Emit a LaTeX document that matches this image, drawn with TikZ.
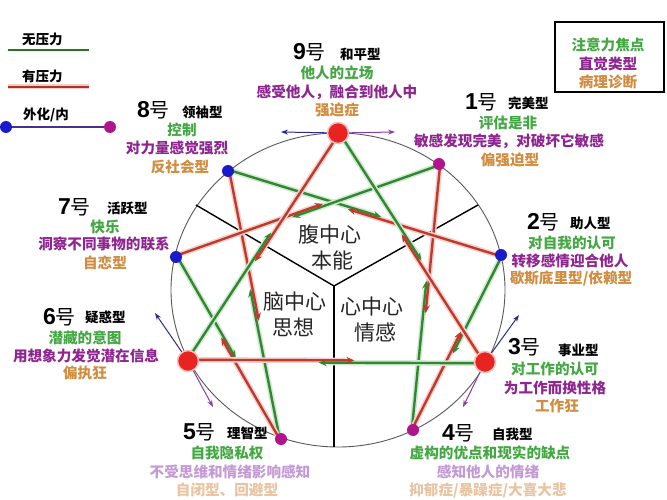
\documentclass[tikz,border=0pt]{standalone}
\usepackage{fontspec}
\setmainfont{Noto Sans CJK SC}
\newfontfamily\numfont{Liberation Sans}
\usetikzlibrary{arrows.meta,calc}
\definecolor{gline}{HTML}{2F8A2F}
\definecolor{rline}{HTML}{C0392B}
\definecolor{tgreen}{HTML}{43A843}
\definecolor{tpurple}{HTML}{8E2590}
\definecolor{torange}{HTML}{D08C40}
\definecolor{tpurplel}{HTML}{C49AD6}
\definecolor{torangel}{HTML}{E8C4A2}
\definecolor{navyc}{HTML}{2B2B85}
\definecolor{violc}{HTML}{8B3F9E}
\definecolor{dotred}{HTML}{E82420}
\definecolor{dotblue}{HTML}{1A1AC8}
\definecolor{dotmag}{HTML}{B0148C}
\newcommand\enseg[2]{%
 \draw[gglow] ($(#2)!1.2pt!90:(#1)$) -- ($($(#2)!0.53!(#1)$)!1.2pt!90:(#1)$);
 \draw[rglow] ($(#1)!1.2pt!90:(#2)$) -- ($($(#1)!0.53!(#2)$)!1.2pt!90:(#2)$);
 \draw[gl] ($(#2)!1.2pt!90:(#1)$) -- ($($(#2)!0.56!(#1)$)!1.2pt!90:(#1)$);
 \draw[sl] ($(#1)!1.2pt!90:(#2)$) -- ($($(#1)!0.56!(#2)$)!1.2pt!90:(#2)$);
}
\begin{document}
\begin{tikzpicture}[x=1pt,y=-1pt,
  sl/.style={rline,line width=2.4pt,-{Stealth[length=8pt,width=7pt]}},
  gl/.style={gline,line width=2.4pt,-{Stealth[length=8pt,width=7pt]}},
  rglow/.style={rline!22,line width=5.5pt},
  gglow/.style={gline!20,line width=5.5pt},
  tan1/.style={navyc,line width=1pt,-{Stealth[length=7pt,width=5pt]}},
  tan2/.style={violc,line width=1pt,-{Stealth[length=7pt,width=5pt]}},
  bigdot/.style={circle,fill=dotred,draw=dotred!30,line width=1.5pt,minimum size=21pt,inner sep=0},
  bdot/.style={circle,fill=dotblue,minimum size=12pt,inner sep=0},
  mdot/.style={circle,fill=dotmag,minimum size=12pt,inner sep=0},
  numt/.style={anchor=west,inner sep=0},
  typet/.style={anchor=west,inner sep=0,font=\bfseries\fontsize{13.5}{14}\selectfont},
  desc/.style={inner sep=0,font=\bfseries\fontsize{14.6}{15}\selectfont},
  ctr/.style={inner sep=0,font=\fontsize{21}{22}\selectfont,text=black!85},
  legt/.style={anchor=west,inner sep=0,font=\bfseries\fontsize{13.5}{14}\selectfont}
]
\useasboundingbox (0,0) rectangle (667,500);
\fill[white] (0,0) rectangle (667,500);

% points
\coordinate (p9) at (338,133);
\coordinate (p1) at (439,164);
\coordinate (p2) at (501,255);
\coordinate (p3) at (485,362);
\coordinate (p4) at (413,430);
\coordinate (p5) at (281,439);
\coordinate (p6) at (188,361);
\coordinate (p7) at (176,257);
\coordinate (p8) at (228,171);
\coordinate (cc) at (338,290);

% circle
\draw[black!65,line width=0.9pt] (cc) ellipse [x radius=167, y radius=157];

% centres
\coordinate (yc) at (334,286);
\coordinate (yl) at (196,205);
\coordinate (yr) at (478,205);
\coordinate (yb) at (334,447);
\draw[black,line width=1.4pt] (yl) -- (yc) -- (yr);
\draw[black,line width=1.4pt] (yc) -- (yb);

% lines
\enseg{p1}{p4}
\enseg{p4}{p2}
\enseg{p2}{p8}
\enseg{p8}{p5}
\enseg{p5}{p7}
\enseg{p7}{p1}
\enseg{p9}{p6}
\enseg{p6}{p3}
\enseg{p3}{p9}

% tangent arrows
\coordinate (a9l) at (281,132);
\coordinate (a9r) at (395,132);
\coordinate (a6u) at (155,313);
\coordinate (a6d) at (213,407);
\coordinate (a3u) at (519,315);
\coordinate (a3d) at (463,407);
\draw[tan1] (p9) -- (a9l);
\draw[tan2] (p9) -- (a9r);
\draw[tan1] (p6) -- (a6u);
\draw[tan2] (p6) -- (a6d);
\draw[tan1] (p3) -- (a3u);
\draw[tan2] (p3) -- (a3d);

% dots
\node[bigdot] (d9) at (p9) {};
\node[bigdot] (d3) at (p3) {};
\node[bigdot] (d6) at (p6) {};
\node[bdot] (d8) at (p8) {};
\node[bdot] (d7) at (p7) {};
\node[bdot] (d2) at (p2) {};
\node[mdot] (d1) at (p1) {};
\node[mdot] (d4) at (p4) {};
\node[mdot] (d5) at (p5) {};

% centre texts
\node[ctr] (c1) at (330,235) {腹中心};
\node[ctr] (c2) at (332,260) {本能};
\node[ctr] (c3) at (295,302) {脑中心};
\node[ctr] (c4) at (293,327) {思想};
\node[ctr] (c5) at (372,307) {心中心};
\node[ctr] (c6) at (375,332) {情感};

% titles
\newcommand\numlab[1]{{\numfont\bfseries\fontsize{23}{23}\selectfont #1}{\fontsize{20}{20}\selectfont 号}}
\node[numt] (n9) at (293,52) {\numlab{9}};
\node[typet] (y9) at (340,54) {和平型};
\node[numt] (n1) at (465,102) {\numlab{1}};
\node[typet] (y1) at (508,103) {完美型};
\node[numt] (n8) at (137,110) {\numlab{8}};
\node[typet] (y8) at (182,112) {领袖型};
\node[numt] (n7) at (58,207) {\numlab{7}};
\node[typet] (y7) at (107,208) {活跃型};
\node[numt] (n6) at (43,317) {\numlab{6}};
\node[typet] (y6) at (85,317) {疑惑型};
\node[numt] (n2) at (527,222) {\numlab{2}};
\node[typet] (y2) at (570,223) {助人型};
\node[numt] (n3) at (508,347) {\numlab{3}};
\node[typet] (y3) at (558,350) {事业型};
\node[numt] (n4) at (442,433) {\numlab{4}};
\node[typet] (y4) at (492,434) {自我型};
\node[numt] (n5) at (183,432) {\numlab{5}};
\node[typet] (y5) at (227,433) {理智型};

% descriptions
\node[desc,text=tgreen] (g9) at (337,73) {他人的立场};
\node[desc,text=tpurple] (u9) at (337,92) {感受他人，融合到他人中};
\node[desc,text=torange] (o9) at (337,110) {强迫症};
\node[desc,text=tgreen] (g1) at (508,123) {评估是非};
\node[desc,text=tpurple] (u1) at (509,141) {敏感发现完美，对破坏它敏感};
\node[desc,text=torange] (o1) at (510,160) {偏强迫型};
\node[desc,text=tgreen] (g8) at (182,130) {控制};
\node[desc,text=tpurple] (u8) at (177,148) {对力量感觉强烈};
\node[desc,text=torange] (o8) at (180,167) {反社会型};
\node[desc,text=tgreen] (g7) at (105,227) {快乐};
\node[desc,text=tpurple] (u7) at (104,244) {洞察不同事物的联系};
\node[desc,text=torange] (o7) at (105,263) {自恋型};
\node[desc,text=tgreen] (g6) at (85,338) {潜藏的意图};
\node[desc,text=tpurple] (u6) at (86,356) {用想象力发觉潜在信息};
\node[desc,text=torange] (o6) at (85,373) {偏执狂};
\node[desc,text=tgreen] (g2) at (572,243) {对自我的认可};
\node[desc,text=tpurple] (u2) at (570,261) {转移感情迎合他人};
\node[desc,text=torange] (o2) at (571,279) {歇斯底里型/依赖型};
\node[desc,text=tgreen] (g3) at (555,369) {对工作的认可};
\node[desc,text=tpurple] (u3) at (555,388) {为工作而换性格};
\node[desc,text=torange] (o3) at (557,406) {工作狂};
\node[desc,text=tgreen] (g4) at (490,453) {虚构的优点和现实的缺点};
\node[desc,text=tpurplel] (u4) at (488,472) {感知他人的情绪};
\node[desc,text=torangel] (o4) at (488,490) {抑郁症/暴躁症/大喜大悲};
\node[desc,text=tgreen] (g5) at (227,453) {自我隐私权};
\node[desc,text=tpurplel] (u5) at (230,472) {不受思维和情绪影响感知};
\node[desc,text=torangel] (o5) at (227,490) {自闭型、回避型};

% legend
\node[legt] (l1) at (22,39) {无压力};
\coordinate (l1a) at (8,50);
\coordinate (l1b) at (89,50);
\draw[gline!85!black,line width=2.6pt] (l1a) -- (l1b);
\node[legt] (l2) at (22,76) {有压力};
\coordinate (l2a) at (8,87);
\coordinate (l2b) at (89,87);
\draw[rline!25,line width=5pt] (l2a) -- (l2b);
\draw[rline!90!black,line width=2.6pt] (l2a) -- (l2b);
\node[legt] (l3) at (23,115) {外化/内};
\node[bdot] (lb) at (6,127) {};
\node[mdot] (lm) at (110,127) {};
\draw[navyc!70!violc,line width=1.6pt] (lb) -- (lm);

% key box
\node[draw=black,line width=1.3pt,minimum width=109pt,minimum height=70pt,inner sep=0] (kb) at (609.5,57) {};
\node[desc,text=tgreen] (k1) at (608,45) {注意力焦点};
\node[desc,text=tpurple] (k2) at (608,64) {直觉类型};
\node[desc,text=torange] (k3) at (608,82) {病理诊断};
\end{tikzpicture}
\end{document}
